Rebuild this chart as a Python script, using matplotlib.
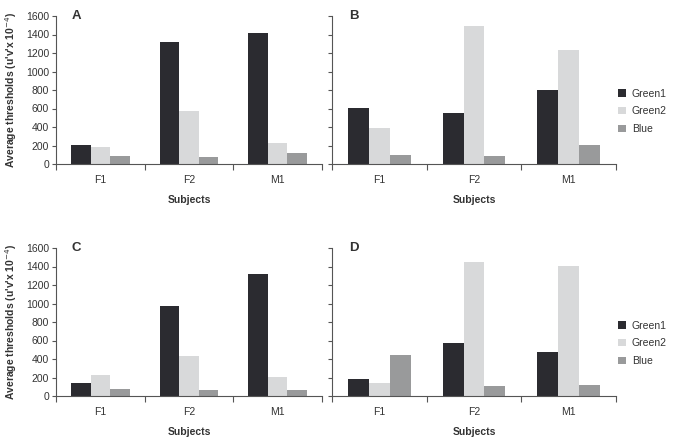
import numpy as np
import matplotlib
matplotlib.use("Agg")
import matplotlib.pyplot as plt

plt.rcParams['font.family'] = ['Liberation Sans', 'DejaVu Sans']

subjects = ["F1", "F2", "M1"]
series = ["Green1", "Green2", "Blue"]
colors = ["#2b2b30", "#d8d9da", "#999a9b"]

# values (F1, F2, M1)
a_green1 = [209, 1315, 1420]
a_green2 = [180, 577, 231]
a_blue = [86, 79, 115]

b_green1 = [609, 551, 796]
b_green2 = [389, 1492, 1229]
b_blue = [101, 86, 202]

c_green1 = [144, 973, 1323]
c_green2 = [223, 429, 205]
c_blue = [76, 65, 65]

d_green1 = [187, 573, 472]
d_green2 = [141, 1445, 1402]
d_blue = [440, 104, 119]

panels = {
    "A": [a_green1, a_green2, a_blue],
    "B": [b_green1, b_green2, b_blue],
    "C": [c_green1, c_green2, c_blue],
    "D": [d_green1, d_green2, d_blue],
}

W, H = 676, 443
fig = plt.figure(figsize=(W / 100, H / 100), dpi=100)

def rect(x0, x1, ytop, ybot):
    return [x0 / W, 1 - ybot / H, (x1 - x0) / W, (ybot - ytop) / H]

boxes = {
    "A": rect(56, 322, 16, 164),
    "B": rect(332, 616, 16, 164),
    "C": rect(56, 322, 248, 396),
    "D": rect(332, 616, 248, 396),
}

spine_col = "#555555"
text_col = "#333333"
bw = 0.22
x = np.arange(len(subjects))

for name, vals in panels.items():
    ax = fig.add_axes(boxes[name])
    for i, (s, v) in enumerate(zip(series, vals)):
        ax.bar(x + (i - 1) * bw, v, width=bw, color=colors[i], label=s)
    ax.set_xlim(-0.5, 2.5)
    ax.set_ylim(0, 1600)
    ax.set_yticks(range(0, 1601, 200))
    for sp in ["top", "right"]:
        ax.spines[sp].set_visible(False)
    for sp in ["left", "bottom"]:
        ax.spines[sp].set_color(spine_col)
        ax.spines[sp].set_linewidth(0.8)
    ax.set_xticks(x)
    ax.set_xticklabels(subjects)
    ax.set_xticks([-0.5, 0.5, 1.5, 2.5], minor=True)
    ax.tick_params(axis="x", which="major", length=0, pad=8, labelsize=7.5, labelcolor=text_col)
    ax.tick_params(axis="x", which="minor", length=4, width=0.8, color=spine_col, direction="out")
    ax.tick_params(axis="y", length=3, width=0.8, color=spine_col, labelsize=7.5, labelcolor=text_col, pad=2)
    ax.set_xlabel("Subjects", fontsize=7.5, fontweight="bold", color=text_col, labelpad=7)
    ax.text(0.06, 1.0, name, fontsize=9.5, fontweight="bold", color=text_col,
            transform=ax.transAxes, ha="left", va="center")
    if name in ("A", "C"):
        ax.set_ylabel("Average thresholds (u'v'x 10$^{-4}$)", fontsize=7.5,
                      fontweight="bold", color=text_col, labelpad=5)
    else:
        ax.set_yticklabels([])
        ax.legend(loc="center left", bbox_to_anchor=(0.99, 0.355), frameon=False,
                  fontsize=7.5, handlelength=0.7, handleheight=0.7, borderpad=0,
                  handletextpad=0.6, labelspacing=0.75, labelcolor=text_col)

fig.savefig("out.png", dpi=100)
